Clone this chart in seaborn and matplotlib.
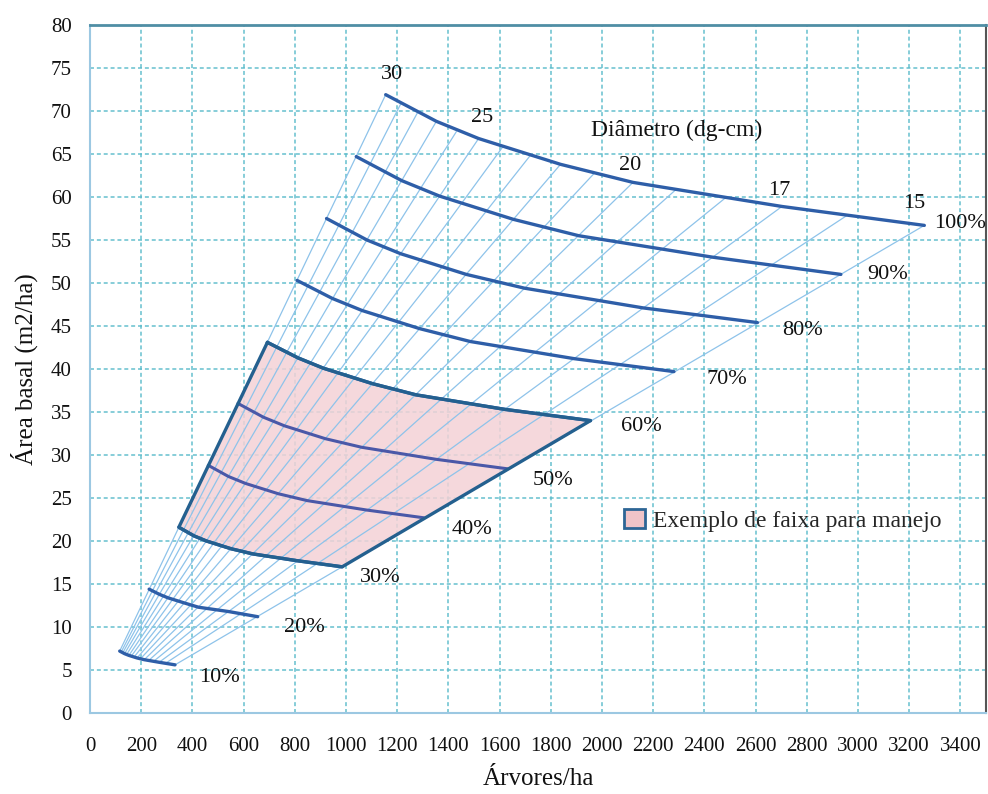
import numpy as np
import pandas as pd
import matplotlib
matplotlib.use("Agg")
import matplotlib.pyplot as plt
from matplotlib.patches import Patch
import seaborn as sns

# relative density curves (árvores/ha, área basal)
dens_labels = ["100%", "90%", "80%", "70%", "60%", "50%", "40%", "30%", "20%", "10%"]
n_100 = [1155, 1353, 1518, 1838, 2121, 2703, 3259]
g_100 = [71.9, 68.8, 66.8, 63.8, 61.7, 58.9, 56.7]
n_90 = [1040, 1218, 1366, 1654, 1909, 2433, 2933]
g_90 = [64.7, 61.9, 60.1, 57.4, 55.5, 53.0, 51.0]
n_80 = [924, 1082, 1214, 1470, 1697, 2162, 2607]
g_80 = [57.5, 55.0, 53.4, 51.0, 49.4, 47.1, 45.4]
n_70 = [809, 947, 1063, 1287, 1485, 1892, 2281]
g_70 = [50.3, 48.2, 46.8, 44.7, 43.2, 41.2, 39.7]
n_60 = [693, 812, 911, 1103, 1273, 1622, 1955]
g_60 = [43.1, 41.3, 40.1, 38.3, 37.0, 35.3, 34.0]
n_50 = [578, 677, 759, 919, 1061, 1352, 1630]
g_50 = [36.0, 34.4, 33.4, 31.9, 30.9, 29.5, 28.4]
n_40 = [462, 541, 607, 735, 848, 1081, 1304]
g_40 = [28.8, 27.5, 26.7, 25.5, 24.7, 23.6, 22.7]
n_30 = [347, 406, 455, 551, 636, 811, 985]
g_30 = [21.6, 20.6, 20.0, 19.1, 18.5, 17.7, 17.0]
n_20 = [231, 271, 304, 368, 424, 541, 655]
g_20 = [14.4, 13.8, 13.4, 12.8, 12.3, 11.8, 11.2]
n_10 = [116, 135, 152, 184, 212, 270, 332]
g_10 = [7.2, 6.9, 6.7, 6.4, 6.2, 5.9, 5.6]

# diameter lines (dg-cm): end on the 100% curve and on the 10% curve
diam = [30, 29, 28, 27, 26, 25, 24, 23, 22, 21, 20, 19, 18, 17, 16, 15]
diam_top_n = [1155, 1215, 1281, 1353, 1431, 1518, 1614, 1719, 1838, 1971, 2121, 2290, 2482, 2703, 2959, 3259]
diam_top_g = [71.9, 70.9, 69.9, 68.8, 67.6, 66.8, 65.9, 64.8, 63.8, 62.8, 61.7, 60.9, 59.9, 58.9, 57.9, 56.7]
diam_bot_n = [116, 122, 128, 135, 143, 152, 161, 172, 184, 197, 212, 229, 248, 270, 296, 332]
diam_bot_g = [7.2, 7.1, 7.0, 6.9, 6.8, 6.7, 6.6, 6.5, 6.4, 6.3, 6.2, 6.1, 6.0, 5.9, 5.8, 5.6]

# text labels
diam_text = ["30", "25", "20", "17", "15"]
diam_text_n = [1179, 1530, 2108, 2693, 3220]
diam_text_g = [74.3, 69.2, 63.7, 60.8, 59.3]
dens_text_n = [3400, 3115, 2783, 2486, 2155, 1807, 1491, 1132, 839, 504]
dens_text_g = [56.9, 51.0, 44.5, 38.8, 33.3, 27.0, 21.3, 15.7, 10.0, 4.1]

curves_n = [n_100, n_90, n_80, n_70, n_60, n_50, n_40, n_30, n_20, n_10]
curves_g = [g_100, g_90, g_80, g_70, g_60, g_50, g_40, g_30, g_20, g_10]

curve_df = pd.concat([
    pd.DataFrame({"arvores": n, "area": g, "dens": lab})
    for lab, n, g in zip(dens_labels, curves_n, curves_g)
], ignore_index=True)

diam_df = pd.concat([
    pd.DataFrame({"arvores": [nb, nt], "area": [gb, gt], "dg": d})
    for d, nb, gb, nt, gt in zip(diam, diam_bot_n, diam_bot_g, diam_top_n, diam_top_g)
], ignore_index=True)

sns.set_theme(style="whitegrid")
plt.rcParams['font.family'] = ['Liberation Serif', 'DejaVu Serif']

fig = plt.figure(figsize=(9.88, 7.94), dpi=100)
ax = fig.add_axes([0.0911, 0.102, 0.9069, 0.8665])

grid_color = '#5cbccb'
ax.set_axisbelow(True)
ax.grid(True, color=grid_color, linestyle=(0, (2.2, 1.6)), linewidth=1.3, alpha=0.8)

# shaded management band between 30% and 60%
band_n = n_60 + n_30[::-1]
band_g = g_60 + g_30[::-1]
ax.fill(band_n, band_g, color='#f4d2d6', alpha=0.85, zorder=1, linewidth=0)

# thin diameter lines
sns.lineplot(data=diam_df, x="arvores", y="area", units="dg", estimator=None,
             sort=False, color='#8ec3ea', linewidth=0.9, ax=ax, zorder=2)

# relative density curves
inside = ["50%", "40%"]
outer_df = curve_df[~curve_df["dens"].isin(inside)]
inner_df = curve_df[curve_df["dens"].isin(inside)]
sns.lineplot(data=outer_df, x="arvores", y="area", units="dens", estimator=None,
             sort=False, color='#2e5ea8', linewidth=2.4, ax=ax, zorder=3)
sns.lineplot(data=inner_df, x="arvores", y="area", units="dens", estimator=None,
             sort=False, color='#4a58a8', linewidth=2.2, ax=ax, zorder=3)

# band border
ax.plot(band_n + band_n[:1], band_g + band_g[:1], color='#24608f', linewidth=2.4, zorder=4)

for t, x, y in zip(diam_text, diam_text_n, diam_text_g):
    ax.text(x, y, t, fontsize=16, ha='center', va='center', color='#111111')
for t, x, y in zip(dens_labels, dens_text_n, dens_text_g):
    ax.text(x, y, t, fontsize=16, ha='center', va='center', color='#111111')
ax.text(2291, 67.8, "Diâmetro (dg-cm)", fontsize=17, ha='center', va='center', color='#111111')

handle = Patch(facecolor='#f0c4c8', edgecolor='#2d6595', linewidth=2.0)
ax.legend([handle], ["Exemplo de faixa para manejo"], loc='center left',
          bbox_to_anchor=(0.572, 0.28), frameon=False, fontsize=17,
          handlelength=0.9, handleheight=0.9, handletextpad=0.35)

ax.set_xlim(0, 3500)
ax.set_ylim(0, 80)
ax.set_xticks(np.arange(0, 3401, 200))
ax.set_yticks(np.arange(0, 81, 5))
ax.tick_params(axis='both', length=0, labelsize=15, colors='#111111')
ax.tick_params(axis='x', pad=17)
ax.tick_params(axis='y', pad=13)
ax.set_xlabel("Árvores/ha", fontsize=18, labelpad=9, color='#111111')
ax.set_ylabel("Área basal (m2/ha)", fontsize=18, labelpad=9, color='#111111')

for side in ['left', 'bottom']:
    ax.spines[side].set_color('#9cc8e2')
    ax.spines[side].set_linewidth(1.5)
ax.spines['top'].set_color('#4f8ea5')
ax.spines['top'].set_linewidth(2.0)
ax.spines['right'].set_color('#555555')
ax.spines['right'].set_linewidth(1.5)

fig.savefig("out.png", dpi=100)
plt.close(fig)
